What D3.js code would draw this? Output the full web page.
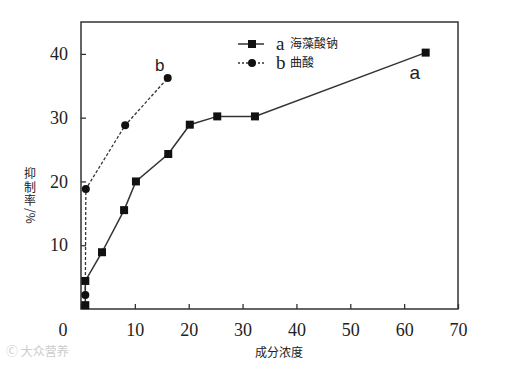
<!DOCTYPE html>
<html>
<head>
<meta charset="utf-8">
<script src="https://cdn.jsdelivr.net/npm/d3@7"></script>
<style>
  body { margin: 0; background: #fff; }
</style>
</head>
<body>
<div id="chart"></div>
<script>
// data
var aX = [0.8, 0.8, 3.9, 8.0, 10.2, 16.2, 20.2, 25.3, 32.3, 64.0];
var aY = [0.6, 4.4, 8.9, 15.5, 20.0, 24.3, 28.9, 30.2, 30.2, 40.2];
var bX = [0.8, 0.9, 8.2, 16.1];
var bY = [2.2, 18.8, 28.8, 36.2];
var xTicks = [0, 10, 20, 30, 40, 50, 60, 70];
var yTicks = [10, 20, 30, 40];
var legendNames = ["海藻酸钠", "曲酸"];

var w = 510, h = 365;
var padL = 81, padR = 458, padT = 22, padB = 309;
var serif = "'Liberation Serif', 'DejaVu Serif', serif";
var cjk = "'Noto Sans CJK SC', sans-serif";

var svg = d3.select("#chart").append("svg")
  .attr("width", w).attr("height", h);

var x = d3.scaleLinear().domain([0, 70]).range([padL, padR]);
var y = d3.scaleLinear().domain([0, 45]).range([padB, padT]);

var ink = "#333";

// frame
svg.append("rect")
  .attr("x", padL).attr("y", padT)
  .attr("width", padR - padL).attr("height", padB - padT)
  .attr("fill", "none").attr("stroke", ink).attr("stroke-width", 1.5);

var xAxis = svg.append("g")
  .attr("transform", "translate(0," + padB + ")")
  .call(d3.axisBottom(x).tickValues(xTicks).tickSize(-5).tickPadding(14)
    .tickFormat(function(d) { return d === 0 ? "" : d; }));
xAxis.select(".domain").remove();

var yAxis = svg.append("g")
  .attr("transform", "translate(" + padL + ",0)")
  .call(d3.axisLeft(y).tickValues(yTicks).tickSize(-5).tickPadding(13));
yAxis.select(".domain").remove();

svg.selectAll("g.tick").select("line").attr("stroke", ink).attr("stroke-width", 1.3);
xAxis.attr("font-family", serif).attr("font-size", 18);
yAxis.attr("font-family", serif).attr("font-size", 18);
svg.selectAll("g.tick").select("text")
  .style("font-family", serif)
  .style("font-size", "18px").attr("fill", "#222");

// origin label sits left of the axis in the figure
svg.append("text")
  .attr("x", x(0) - 18).attr("y", padB + 27)
  .attr("text-anchor", "middle")
  .style("font-family", serif).style("font-size", "18px")
  .attr("fill", "#222")
  .text("0");

var line = d3.line()
  .x(function(d) { return x(d[0]); })
  .y(function(d) { return y(d[1]); });

var aPts = aX.map(function(v, i) { return [v, aY[i]]; });
var bPts = bX.map(function(v, i) { return [v, bY[i]]; });

svg.append("path").datum(bPts)
  .attr("d", line).attr("fill", "none")
  .attr("stroke", ink).attr("stroke-width", 1.3)
  .attr("stroke-dasharray", "3,2");

svg.append("path").datum(aPts)
  .attr("d", line).attr("fill", "none")
  .attr("stroke", ink).attr("stroke-width", 1.5);

svg.selectAll("rect.sq")
  .data(aPts).enter().append("rect")
  .attr("class", "sq")
  .attr("x", function(d) { return x(d[0]) - 4; })
  .attr("y", function(d) { return y(d[1]) - 4; })
  .attr("width", 8).attr("height", 8)
  .attr("fill", "#111");

svg.selectAll("circle.dot")
  .data(bPts).enter().append("circle")
  .attr("class", "dot")
  .attr("cx", function(d) { return x(d[0]); })
  .attr("cy", function(d) { return y(d[1]); })
  .attr("r", 4)
  .attr("fill", "#111");

// series labels on the plot
svg.append("text")
  .attr("x", x(bX[3]) - 8).attr("y", y(bY[3]) - 7)
  .attr("text-anchor", "middle")
  .style("font-family", "'Liberation Sans', Arial, sans-serif")
  .style("font-size", "17px").attr("fill", "#222")
  .text("b");
svg.append("text")
  .attr("x", x(aX[9]) - 11).attr("y", y(aY[9]) + 26)
  .attr("text-anchor", "middle")
  .style("font-family", "'Liberation Sans', Arial, sans-serif")
  .style("font-size", "19px").attr("fill", "#222")
  .text("a");

// legend
var lg = svg.append("g").attr("transform", "translate(238,44)");
lg.append("line").attr("x1", 0).attr("x2", 26).attr("y1", 0).attr("y2", 0)
  .attr("stroke", ink).attr("stroke-width", 1.5);
lg.append("rect").attr("x", 10).attr("y", -4).attr("width", 8).attr("height", 8).attr("fill", "#111");
lg.append("line").attr("x1", 0).attr("x2", 26).attr("y1", 19).attr("y2", 19)
  .attr("stroke", ink).attr("stroke-width", 1.3).attr("stroke-dasharray", "2,2");
lg.append("circle").attr("cx", 14).attr("cy", 19).attr("r", 4).attr("fill", "#111");
["a", "b"].forEach(function(k, i) {
  lg.append("text").attr("x", 38).attr("y", i * 19 + 6)
    .style("font-family", serif).style("font-size", "19px")
    .attr("fill", "#222").text(k);
  lg.append("text").attr("x", 52).attr("y", i * 19 + 4)
    .style("font-family", cjk).style("font-size", "12px")
    .attr("fill", "#222").text(legendNames[i]);
});

// axis titles
svg.append("text")
  .attr("x", 279).attr("y", 357)
  .attr("text-anchor", "middle")
  .style("font-family", cjk).style("font-size", "12px")
  .attr("fill", "#222")
  .text("成分浓度");

// y title: CJK characters stacked upright, then "/%" turned sideways
var yt = svg.append("text")
  .attr("transform", "translate(30,0)")
  .attr("text-anchor", "middle")
  .style("font-family", cjk).style("font-size", "12px")
  .attr("fill", "#222");
["抑", "制", "率"].forEach(function(c, i) {
  yt.append("tspan").attr("x", 0).attr("y", 178 + i * 13.5).text(c);
});
svg.append("text")
  .attr("transform", "translate(26,208) rotate(90)")
  .style("font-family", cjk).style("font-size", "12px")
  .attr("fill", "#222").text("/%");

// faint watermark
svg.append("text")
  .attr("x", 6).attr("y", 356)
  .style("font-family", cjk).style("font-size", "12px")
  .attr("fill", "#ccc")
  .text("Ⓒ 大众营养");
</script>
</body>
</html>
